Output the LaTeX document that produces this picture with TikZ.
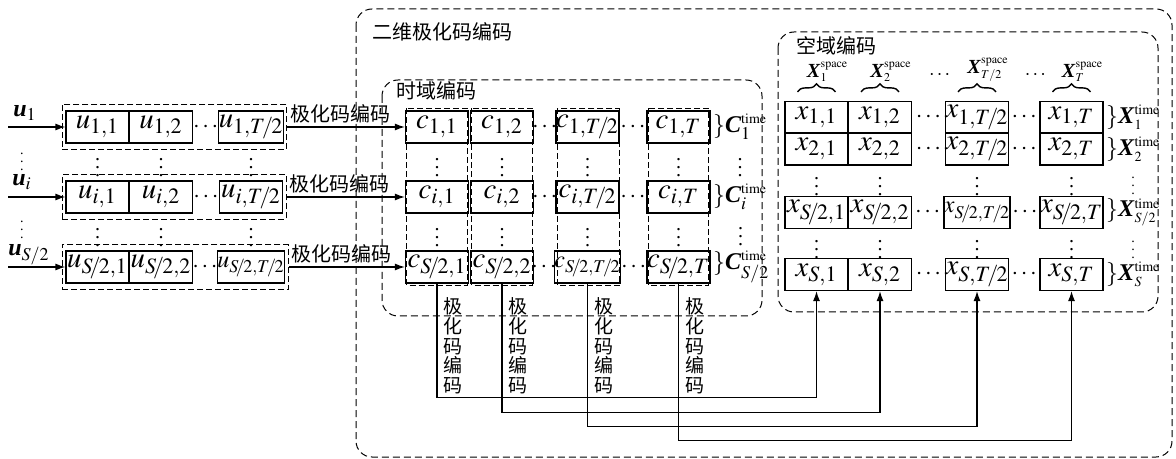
\documentclass[tikz,border=0pt]{standalone}
\usepackage{mathptmx}
\usepackage{fontspec}
\setmainfont{Liberation Serif}
\newfontfamily\cjk{Noto Sans CJK SC}
\usetikzlibrary{arrows.meta,fit,decorations.pathreplacing}
\newcommand{\bivec}[1]{\textbf{\textit{#1}}}
\newcommand{\halfof}[1]{#1\mkern-2.5mu/\mkern-1.5mu2}
\tikzset{
  cell/.style={draw,line width=0.6,minimum width=31.5pt,minimum height=16pt,inner sep=0pt,font=\Large},
  quarter/.style={font=\large},
  grp/.style={draw,line width=0.5,dash pattern=on 3pt off 1.5pt},
  zone/.style={line width=0.5,dash pattern=on 3.5pt off 2pt,rounded corners=8pt},
  arr/.style={line width=0.6,-{Latex[length=5pt,width=3.5pt]}},
  cjklabel/.style={font=\cjk\fontsize{10}{12}\selectfont,inner sep=0pt},
  htext/.style={cjklabel,above,inner sep=1.5pt,pos=0.45},
  vtext/.style={cjklabel,anchor=north,align=center,font=\cjk\fontsize{9.5}{9.8}\selectfont},
  ulabel/.style={font=\large,inner sep=0pt},
  tlabel/.style={font=\large,anchor=west,inner sep=1pt},
  dots/.style={inner sep=0pt},
  brc/.style={decorate,decoration={brace,amplitude=4pt},line width=0.7},
}
\begin{document}
\begin{tikzpicture}[x=0.5pt,y=-0.5pt]
\useasboundingbox (0,0) rectangle (1176,459);
\draw[zone] (356,9) rectangle (1172,457);
\draw[zone] (382,80) rectangle (762,316);
\draw[zone] (778,32) rectangle (1158,312);
\node[cjklabel,anchor=west] (t2d) at (372,32) {二维极化码编码};
\node[cjklabel,anchor=west] (ttime) at (396,91) {时域编码};
\node[cjklabel,anchor=west] (tspace) at (796,46) {空域编码};

\foreach \r/\y in {1/127,i/197}{
  \node[cell] (u\r1) at (97.5,\y) {$u_{\r,1}$};
  \node[cell] (u\r2) at (161,\y) {$u_{\r,2}$};
  \node[cell] (u\r3) at (251,\y) {$u_{\r,\halfof{T}}$};
  \node[cell] (c\r1) at (437,\y) {$c_{\r,1}$};
  \node[cell] (c\r2) at (502,\y) {$c_{\r,2}$};
  \node[cell] (c\r3) at (587.5,\y) {$c_{\r,\halfof{T}}$};
  \node[cell] (c\r4) at (678.5,\y) {$c_{\r,T}$};
}
\node[cell] (us1) at (97.5,267) {$u_{\halfof{S},1}$};
\node[cell] (us2) at (161,267) {$u_{\halfof{S},2}$};
\node[cell,quarter] (us3) at (251,267) {$u_{\halfof{S},\halfof{T}}$};
\node[cell] (cs1) at (437,267) {$c_{\halfof{S},1}$};
\node[cell] (cs2) at (502,267) {$c_{\halfof{S},2}$};
\node[cell,quarter] (cs3) at (587.5,267) {$c_{\halfof{S},\halfof{T}}$};
\node[cell] (cs4) at (678.5,267) {$c_{\halfof{S},T}$};

\foreach \r in {1,i,s}{
  \node[grp,fit=(u\r1)(u\r3),inner xsep=1.5pt,inner ysep=3pt] (g\r) {};
  \draw[arr] (g\r.east) -- node[htext] {极化码编码} (c\r1.west);
  \path (u\r2) -- node[dots,font=\large] (ud\r) {$\cdots$} (u\r3);
  \path (c\r2) -- node[dots,font=\large] (cda\r) {$\cdots$} (c\r3);
  \path (c\r3) -- node[dots,font=\large] (cdb\r) {$\cdots$} (c\r4);
}
\foreach \k in {1,2,3}{
  \path (u1\k) -- node[dots] (uv\k) {$\vdots$} (ui\k);
  \path (ui\k) -- node[dots] (uw\k) {$\vdots$} (us\k);
}
\foreach \k in {1,...,4}{
  \draw[grp] ([shift={(2,-2)}]c1\k.north west) rectangle ([shift={(-2,2)}]cs\k.south east);
  \path (c1\k) -- node[dots] (cv\k) {$\vdots$} (ci\k);
  \path (ci\k) -- node[dots] (cw\k) {$\vdots$} (cs\k);
}

\coordinate (in1) at (8,127);
\coordinate (ini) at (8,197);
\coordinate (ins) at (8,267);
\draw[arr] (in1) -- (u11.west);
\draw[arr] (ini) -- (ui1.west);
\draw[arr] (ins) -- (us1.west);
\node[ulabel] (lu1) at (25,113) {$\bivec{u}_1$};
\node[ulabel] (lui) at (22,182) {$\bivec{u}_i$};
\node[ulabel] (lus) at (29,255) {$\bivec{u}_{S/2}$};
\node[dots,font=\scriptsize] (ld1) at (22,156) {$\vdots$};
\node[dots,font=\scriptsize] (ld2) at (22,224) {$\vdots$};

\node[tlabel] (C1) at (c14.east) {$\}\bivec{C}_1^{\scriptscriptstyle\mathrm{time}}$};
\node[tlabel] (Ci) at (ci4.east) {$\}\bivec{C}_i^{\scriptscriptstyle\mathrm{time}}$};
\node[tlabel] (Cs) at (cs4.east) {$\}\bivec{C}_{S/2}^{\scriptscriptstyle\mathrm{time}}$};
\path (C1) -- node[dots] (Cd1) {$\vdots$} (Ci);
\path (Ci) -- node[dots] (Cd2) {$\vdots$} (Cs);

\foreach \r/\y/\s in {1/117.5/1,2/149/2,n/274.5/S}{
  \node[cell] (x\r1) at (816.5,\y) {$x_{\s,1}$};
  \node[cell] (x\r2) at (880,\y) {$x_{\s,2}$};
  \node[cell] (x\r3) at (977,\y) {$x_{\s,\halfof{T}}$};
  \node[cell] (x\r4) at (1071.5,\y) {$x_{\s,T}$};
}
\node[cell] (xm1) at (816.5,212.5) {$x_{\halfof{S},1}$};
\node[cell] (xm2) at (880,212.5) {$x_{\halfof{S},2}$};
\node[cell,quarter] (xm3) at (977,212.5) {$x_{\halfof{S},\halfof{T}}$};
\node[cell] (xm4) at (1071.5,212.5) {$x_{\halfof{S},T}$};
\foreach \r/\s in {1/1,2/2,m/{S/2},n/S}{
  \node[tlabel] (X\r) at (x\r4.east) {$\}\bivec{X}_{\scriptscriptstyle \s}^{\scriptscriptstyle\mathrm{time}}$};
  \path (x\r2) -- node[dots,font=\large] (xda\r) {$\cdots$} (x\r3);
  \path (x\r3) -- node[dots,font=\large] (xdb\r) {$\cdots$} (x\r4);
}
\path (X2) -- node[dots,font=\scriptsize] (Xd1) {$\vdots$} (Xm);
\path (Xm) -- node[dots,font=\scriptsize] (Xd2) {$\vdots$} (Xn);
\foreach \k in {1,...,4}{
  \path (x2\k) -- node[dots] (xv\k) {$\vdots$} (xm\k);
  \path (xm\k) -- node[dots] (xw\k) {$\vdots$} (xn\k);
}
\foreach \k/\s in {1/1,2/2,3/{T/2},4/T}{
  \draw[brc] ([shift={(-19,-9)}]x1\k.north) -- ([shift={(19,-9)}]x1\k.north);
  \node[anchor=south west,inner sep=0pt] (Xs\k) at ([shift={(-10,-19)}]x1\k.north) {$\bivec{X}_{\scriptscriptstyle\s}^{\scriptscriptstyle\mathrm{space}}$};
}
\path (Xs2) -- node[dots,yshift=-2pt] (Xsd1) {$\cdots$} (Xs3);
\path (Xs3) -- node[dots,yshift=-2pt] (Xsd2) {$\cdots$} (Xs4);

\draw[arr] (cs1.south) -- ++(0,114) -| (xn1.south);
\draw[arr] (cs2.south) -- ++(0,129) -| (xn2.south);
\draw[arr] (cs3.south) -- ++(0,143) -| (xn3.south);
\draw[arr] (cs4.south) -- ++(0,157) -| (xn4.south);
\foreach \k in {1,...,4}
  \node[vtext] (p\k) at ([shift={(16,14)}]cs\k.south) {极\\化\\码\\编\\码};
\end{tikzpicture}
\end{document}
